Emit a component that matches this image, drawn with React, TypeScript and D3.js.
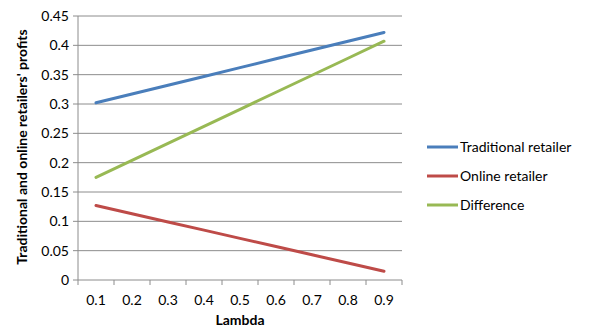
import React from "react";
import * as d3 from "d3";

const categories = ["0.1", "0.2", "0.3", "0.4", "0.5", "0.6", "0.7", "0.8", "0.9"];
const traditional = [0.302, 0.317, 0.332, 0.347, 0.362, 0.377, 0.392, 0.407, 0.422];
const online = [0.127, 0.113, 0.099, 0.085, 0.071, 0.057, 0.043, 0.029, 0.015];
const difference = [0.175, 0.204, 0.233, 0.262, 0.291, 0.32, 0.349, 0.378, 0.407];
const yTicks = [0, 0.05, 0.1, 0.15, 0.2, 0.25, 0.3, 0.35, 0.4, 0.45];
const seriesNames = ["Traditional retailer", "Online retailer", "Difference"];
const colors = ["#4A7EBB", "#BE4B48", "#98B954"];

export default function App() {
  const W = 592, H = 333;
  const left = 78, right = 402, top = 16, bottom = 280;
  const x = d3.scaleBand().domain(categories).range([left, right]);
  const y = d3.scaleLinear().domain([0, 0.45]).range([bottom, top]);
  const font = "Lato, 'Open Sans', sans-serif";
  const series = [traditional, online, difference];
  const line = d3
    .line<number>()
    .x((_, i) => (x(categories[i]) as number) + x.bandwidth() / 2)
    .y((d) => y(d));
  const tickXs = d3.range(categories.length + 1).map((i) => left + i * x.step());
  return (
    <svg width={W} height={H} style={{ position: "absolute", left: 0, top: 0 }}>
      <rect width={W} height={H} fill="#fff" />
      {yTicks.map((t) => (
        <g key={t}>
          {t > 0 && (
            <line x1={left} x2={right} y1={y(t)} y2={y(t)} stroke="#8C8C8C" strokeWidth={1} />
          )}
          <line x1={left - 5} x2={left} y1={y(t)} y2={y(t)} stroke="#8C8C8C" />
          <text x={left - 9} y={y(t)} dy="0.35em" textAnchor="end" fontFamily={font} fontSize={14} fill="#000">
            {t}
          </text>
        </g>
      ))}
      <line x1={left} x2={left} y1={top} y2={bottom} stroke="#8C8C8C" />
      <line x1={left} x2={right} y1={bottom} y2={bottom} stroke="#8C8C8C" />
      {tickXs.map((tx, i) => (
        <line key={i} x1={tx} x2={tx} y1={bottom} y2={bottom + 5} stroke="#8C8C8C" />
      ))}
      {categories.map((c) => (
        <text key={c} x={(x(c) as number) + x.bandwidth() / 2} y={300} dy="0.35em" textAnchor="middle" fontFamily={font} fontSize={14} fill="#000">
          {c}
        </text>
      ))}
      {series.map((s, i) => (
        <path key={i} d={line(s) as string} fill="none" stroke={colors[i]} strokeWidth={3} strokeLinecap="round" />
      ))}
      <text x={240} y={325} textAnchor="middle" fontFamily={font} fontSize={14} fontWeight="bold" fill="#000">
        Lambda
      </text>
      <text transform={`translate(22,${147}) rotate(-90)`} textAnchor="middle" dy="0.35em" fontFamily={font} fontSize={14} fontWeight="bold" fill="#000">
        Traditional and online retailers' profits
      </text>
      {seriesNames.map((n, i) => (
        <g key={n}>
          <line x1={427} x2={458} y1={147 + i * 29} y2={147 + i * 29} stroke={colors[i]} strokeWidth={3} />
          <text x={460} y={147 + i * 29} dy="0.35em" fontFamily={font} fontSize={14} fill="#000">
            {n}
          </text>
        </g>
      ))}
    </svg>
  );
}
